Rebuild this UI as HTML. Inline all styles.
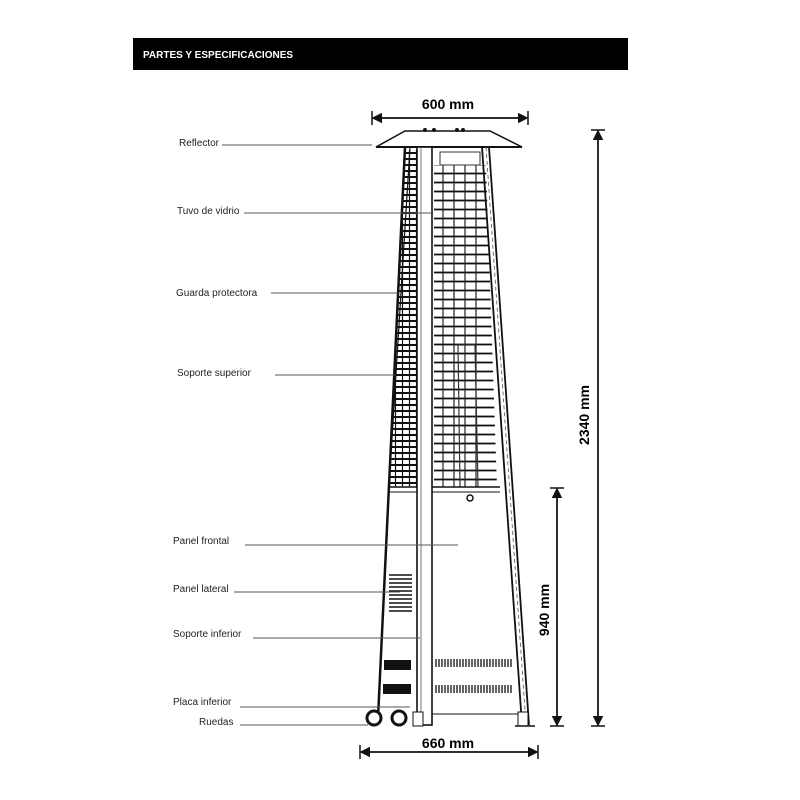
<!DOCTYPE html>
<html><head><meta charset="utf-8"><style>
html,body{margin:0;padding:0;background:#fff;}
svg{display:block;}
text{font-family:"Liberation Sans",sans-serif;}
</style></head><body>
<svg width="800" height="800" viewBox="0 0 800 800" xmlns="http://www.w3.org/2000/svg">
<defs>
<pattern id="hl" width="7" height="6" patternUnits="userSpaceOnUse"><rect width="7" height="6" fill="#fff"/><line x1="0" y1="3" x2="7" y2="3" stroke="#111" stroke-width="2"/><line x1="3.5" y1="0" x2="3.5" y2="6" stroke="#111" stroke-width="1.2"/></pattern>
<pattern id="hr" width="10" height="9" patternUnits="userSpaceOnUse" x="433" y="160"><rect width="10" height="9" fill="#fff"/><line x1="0" y1="4.5" x2="10" y2="4.5" stroke="#111" stroke-width="1.8"/></pattern>
<clipPath id="cl"><polygon points="406,150 417,150 417,487 390,487"/></clipPath>
<clipPath id="cr"><polygon points="434,165 486,165 497,487 434,487"/></clipPath>
<marker id="a" markerWidth="7" markerHeight="7" refX="6" refY="3.5" orient="auto"><path d="M0,0 L7,3.5 L0,7 z" fill="#111"/></marker>
</defs>
<rect x="133" y="38" width="495" height="32" fill="#000"/>
<text x="143" y="58" font-size="10" font-weight="bold" fill="#fff">PARTES Y ESPECIFICACIONES</text>

<polygon points="376,147 522,147 490,131 405,131" fill="#fff" stroke="#111" stroke-width="1.5"/>
<line x1="376" y1="147" x2="522" y2="147" stroke="#111" stroke-width="2"/>
<circle cx="425" cy="130" r="2" fill="#111"/><circle cx="434" cy="130" r="2" fill="#111"/><circle cx="457" cy="130" r="2" fill="#111"/><circle cx="463" cy="130" r="2" fill="#111"/>

<rect x="380" y="148" width="40" height="340" fill="url(#hl)" clip-path="url(#cl)"/>
<rect x="433" y="160" width="70" height="328" fill="url(#hr)" clip-path="url(#cr)"/>
<g stroke="#222" stroke-width="1.2">
<line x1="443" y1="165" x2="443" y2="487"/><line x1="454" y1="165" x2="454" y2="487"/>
<line x1="465" y1="165" x2="465" y2="487"/><line x1="476" y1="165" x2="476" y2="487"/>
</g>
<polyline points="460,487 458,345 475,345 478,487" fill="none" stroke="#333" stroke-width="1.2"/>
<rect x="440" y="152" width="40" height="13" fill="none" stroke="#333"/>

<line x1="405" y1="147" x2="378" y2="718" stroke="#111" stroke-width="2.5"/>
<line x1="410" y1="147" x2="389" y2="487" stroke="#111" stroke-width="1.2"/>
<rect x="417" y="147" width="15" height="578" fill="#fff" stroke="#111" stroke-width="1.6"/>
<line x1="421" y1="147" x2="421" y2="725" stroke="#555" stroke-width="0.8"/>
<line x1="482" y1="147" x2="522" y2="725" stroke="#111" stroke-width="1.8"/>
<line x1="489" y1="147" x2="529" y2="725" stroke="#111" stroke-width="1.8"/>
<line x1="486" y1="147" x2="526" y2="725" stroke="#555" stroke-width="0.8" stroke-dasharray="4,3"/>

<line x1="389" y1="487" x2="417" y2="487" stroke="#111" stroke-width="1.5"/>
<line x1="432" y1="487" x2="500" y2="487" stroke="#111" stroke-width="1.5"/>
<line x1="390" y1="492" x2="417" y2="492" stroke="#111" stroke-width="1"/>
<line x1="432" y1="492" x2="500" y2="492" stroke="#111" stroke-width="1"/>
<circle cx="470" cy="498" r="3" fill="none" stroke="#111" stroke-width="1.5"/>
<line x1="432" y1="714" x2="520" y2="714" stroke="#111" stroke-width="1"/>
<g stroke="#111" stroke-width="1.6">
<line x1="389" y1="575" x2="412" y2="575"/><line x1="389" y1="579" x2="412" y2="579"/><line x1="389" y1="583" x2="412" y2="583"/><line x1="389" y1="587" x2="412" y2="587"/><line x1="389" y1="591" x2="412" y2="591"/><line x1="389" y1="595" x2="412" y2="595"/><line x1="389" y1="599" x2="412" y2="599"/><line x1="389" y1="603" x2="412" y2="603"/><line x1="389" y1="607" x2="412" y2="607"/><line x1="389" y1="611" x2="412" y2="611"/>
</g>
<rect x="384" y="660" width="27" height="10" fill="#111"/>
<rect x="383" y="684" width="28" height="10" fill="#111"/>
<g stroke="#111" stroke-width="1.3">
<path d="M436,659v8M439,659v8M442,659v8M445,659v8M448,659v8M451,659v8M454,659v8M457,659v8M460,659v8M463,659v8M466,659v8M469,659v8M472,659v8M475,659v8M478,659v8M481,659v8M484,659v8M487,659v8M490,659v8M493,659v8M496,659v8M499,659v8M502,659v8M505,659v8M508,659v8M511,659v8"/>
<path d="M436,685v8M439,685v8M442,685v8M445,685v8M448,685v8M451,685v8M454,685v8M457,685v8M460,685v8M463,685v8M466,685v8M469,685v8M472,685v8M475,685v8M478,685v8M481,685v8M484,685v8M487,685v8M490,685v8M493,685v8M496,685v8M499,685v8M502,685v8M505,685v8M508,685v8M511,685v8"/>
</g>
<circle cx="374" cy="718" r="7" fill="#fff" stroke="#111" stroke-width="3"/>
<circle cx="399" cy="718" r="7" fill="#fff" stroke="#111" stroke-width="3"/>
<rect x="413" y="712" width="10" height="14" fill="#fff" stroke="#111"/>
<rect x="518" y="712" width="10" height="14" fill="#fff" stroke="#111"/>
<line x1="515" y1="726" x2="535" y2="726" stroke="#111" stroke-width="1.5"/>

<g stroke="#111" stroke-width="1.5">
<line x1="373" y1="118" x2="527" y2="118" marker-end="url(#a)"/><line x1="527" y1="118" x2="373" y2="118" marker-end="url(#a)"/>
<line x1="372" y1="111" x2="372" y2="125"/><line x1="528" y1="111" x2="528" y2="125"/>
<line x1="361" y1="752" x2="537" y2="752" marker-end="url(#a)"/><line x1="537" y1="752" x2="361" y2="752" marker-end="url(#a)"/>
<line x1="360" y1="745" x2="360" y2="759"/><line x1="538" y1="745" x2="538" y2="759"/>
<line x1="598" y1="131" x2="598" y2="725" marker-end="url(#a)"/><line x1="598" y1="725" x2="598" y2="131" marker-end="url(#a)"/>
<line x1="591" y1="130" x2="605" y2="130"/><line x1="591" y1="726" x2="605" y2="726"/>
<line x1="557" y1="489" x2="557" y2="725" marker-end="url(#a)"/><line x1="557" y1="725" x2="557" y2="489" marker-end="url(#a)"/>
<line x1="550" y1="488" x2="564" y2="488"/><line x1="550" y1="726" x2="564" y2="726"/>
</g>
<text x="448" y="109" font-size="14" font-weight="bold" text-anchor="middle">600 mm</text>
<text x="448" y="748" font-size="14" font-weight="bold" text-anchor="middle">660 mm</text>
<text transform="translate(589,415) rotate(-90)" font-size="14" font-weight="bold" text-anchor="middle">2340 mm</text>
<text transform="translate(549,610) rotate(-90)" font-size="14" font-weight="bold" text-anchor="middle">940 mm</text>

<g font-size="10" fill="#222">
<text x="179" y="146">Reflector</text>
<text x="177" y="214">Tuvo de vidrio</text>
<text x="176" y="296">Guarda protectora</text>
<text x="177" y="376">Soporte superior</text>
<text x="173" y="544">Panel frontal</text>
<text x="173" y="592">Panel lateral</text>
<text x="173" y="637">Soporte inferior</text>
<text x="173" y="705">Placa inferior</text>
<text x="199" y="725">Ruedas</text>
</g>
<g stroke="#555" stroke-width="1">
<line x1="222" y1="145" x2="372" y2="145"/>
<line x1="244" y1="213" x2="432" y2="213"/>
<line x1="271" y1="293" x2="398" y2="293"/>
<line x1="275" y1="375" x2="395" y2="375"/>
<line x1="245" y1="545" x2="458" y2="545"/>
<line x1="234" y1="592" x2="400" y2="592"/>
<line x1="253" y1="638" x2="420" y2="638"/>
<line x1="240" y1="707" x2="410" y2="707"/>
<line x1="240" y1="725" x2="368" y2="725"/>
</g>
</svg>
</body></html>
